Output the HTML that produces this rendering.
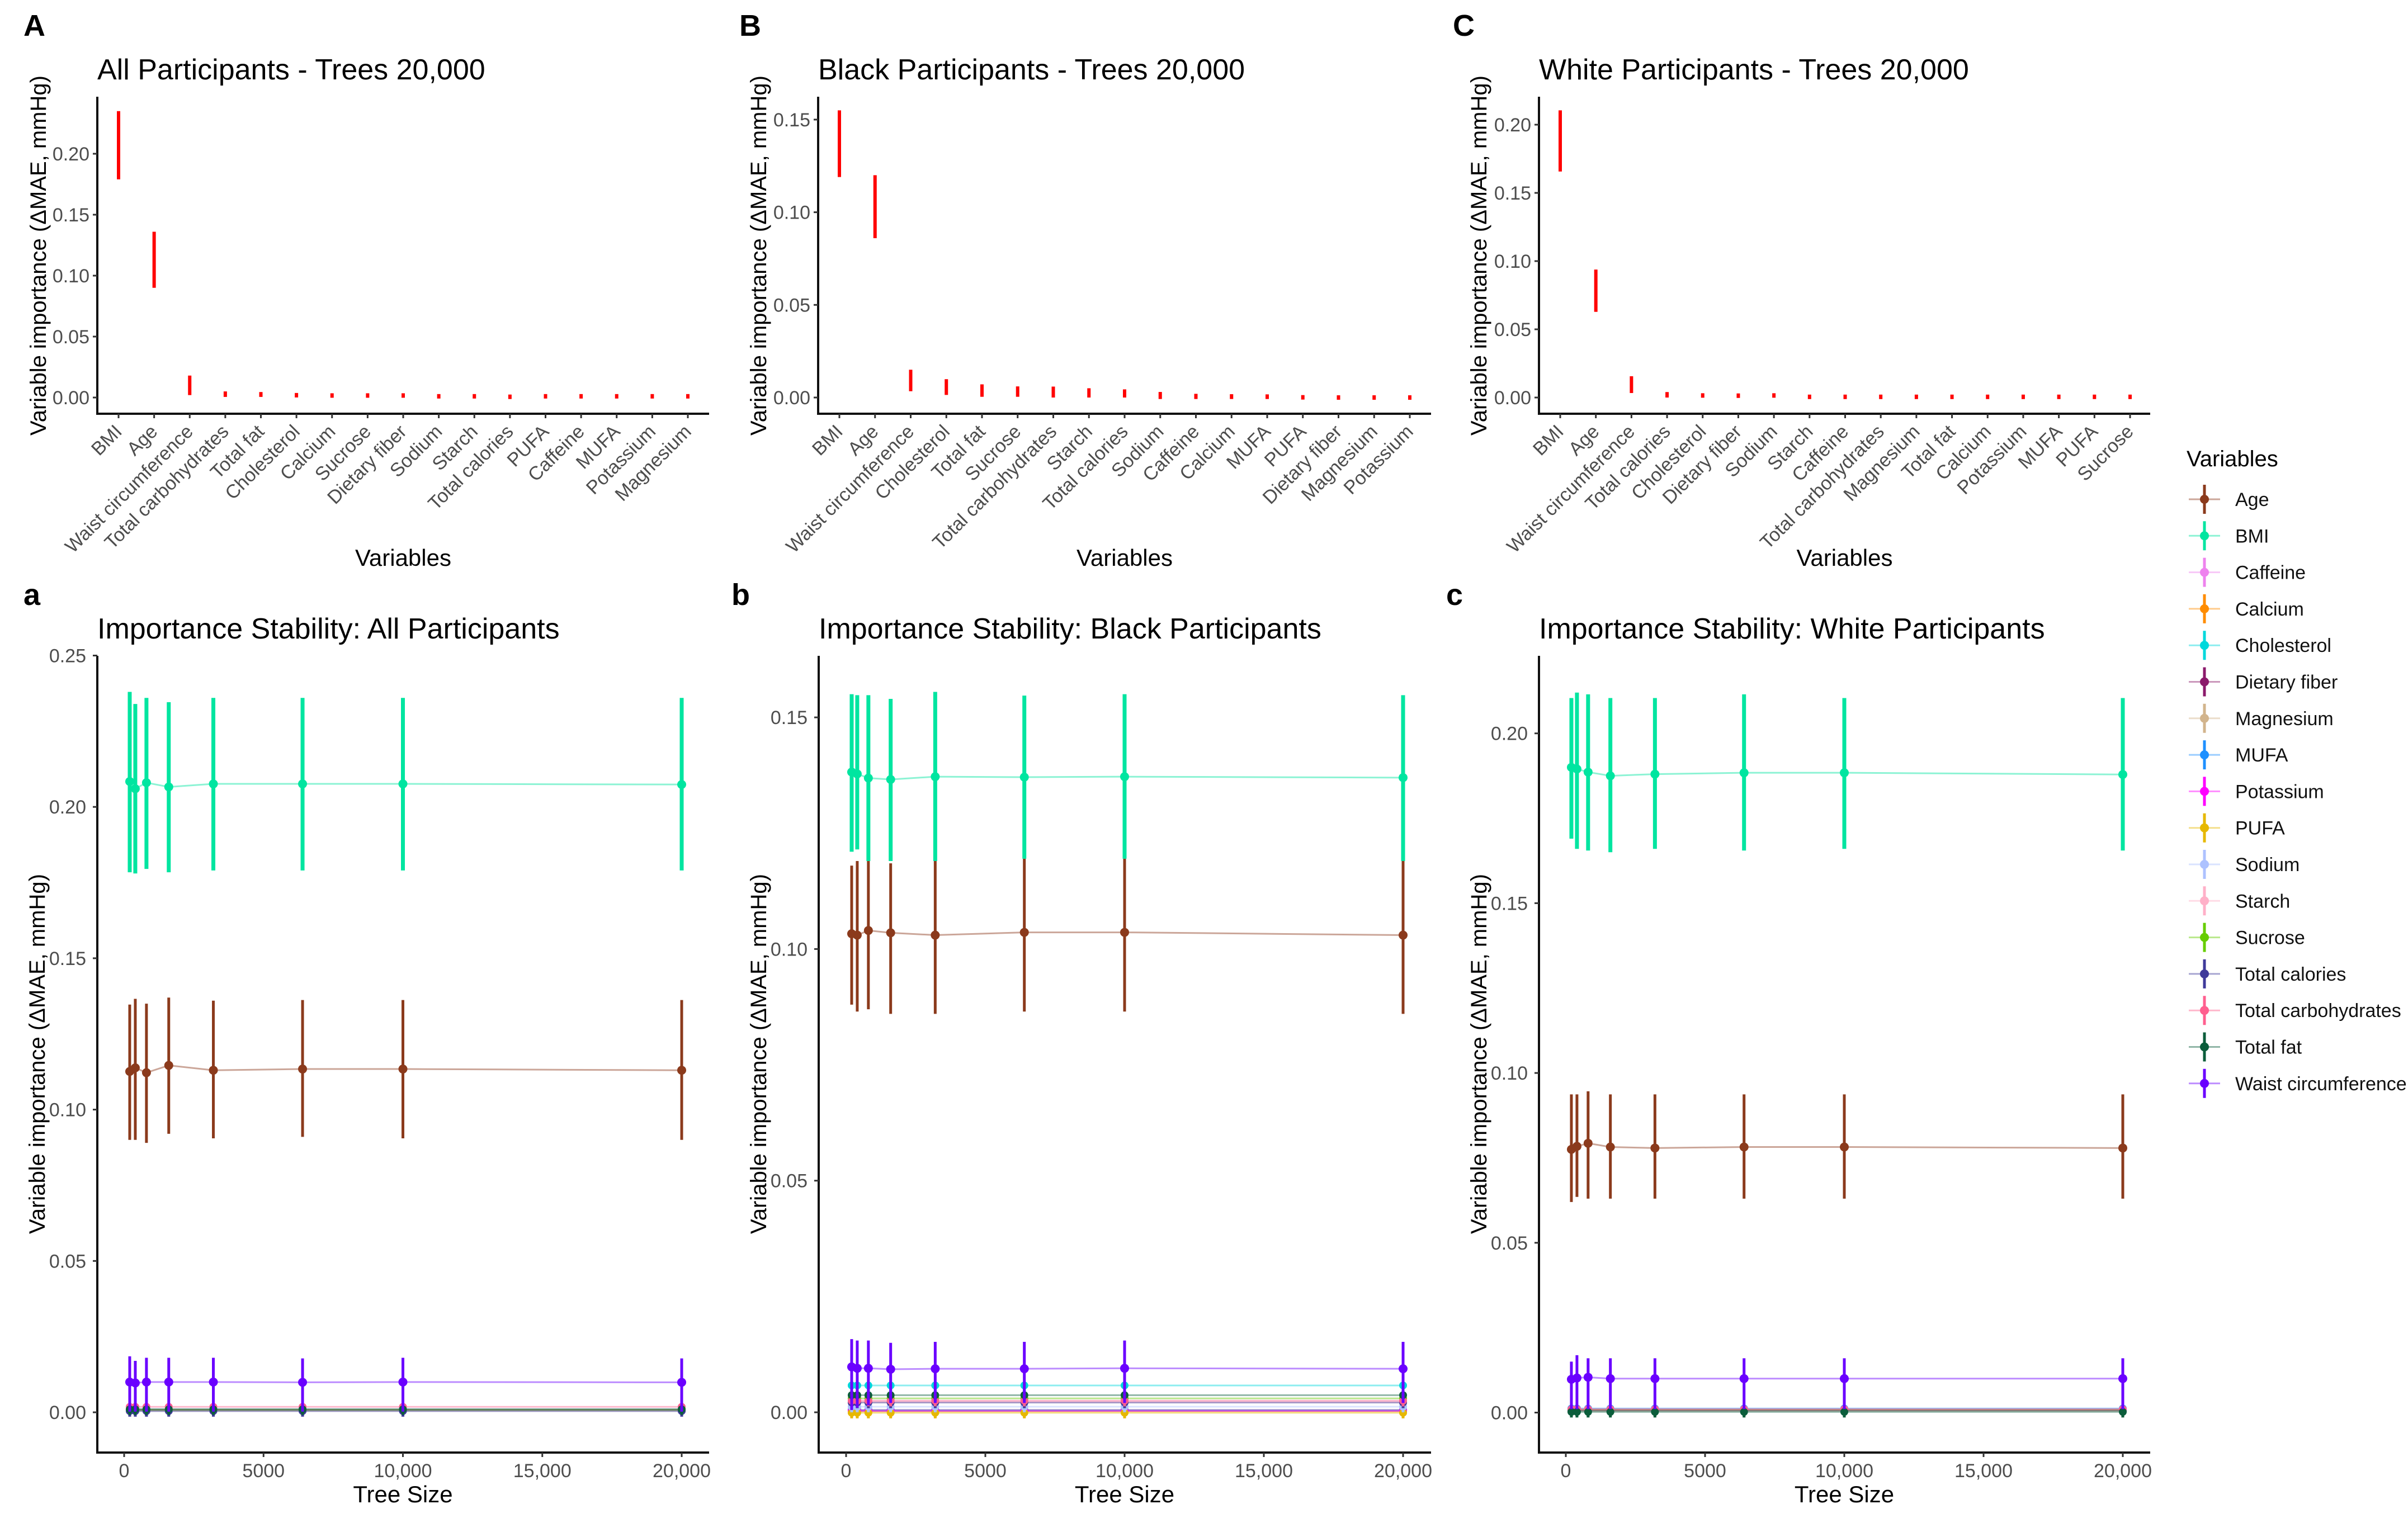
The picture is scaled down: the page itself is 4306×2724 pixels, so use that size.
<!DOCTYPE html>
<html><head><meta charset="utf-8"><title>Variable importance</title>
<style>
html,body{margin:0;padding:0;background:#fff;}
svg{display:block;font-family:"Liberation Sans",Arial,sans-serif;}
</style></head>
<body>
<svg id="fig" width="4306" height="2724" viewBox="0 0 4306 2724" xmlns="http://www.w3.org/2000/svg"></svg>
<script>
// ---------- Top panel data ----------
const catsA = ["BMI","Age","Waist circumference","Total carbohydrates","Total fat","Cholesterol","Calcium","Sucrose","Dietary fiber","Sodium","Starch","Total calories","PUFA","Caffeine","MUFA","Potassium","Magnesium"];
const loA = [0.179,0.090,0.002,0.0005,0.0005,0.0003,0.0003,0.0003,0.0003,0.0,0.0,-0.0003,0.0,0.0,0.0,0.0,0.0];
const hiA = [0.235,0.136,0.018,0.005,0.0045,0.0035,0.003,0.003,0.003,0.002,0.002,0.0015,0.002,0.002,0.002,0.002,0.002];
const catsB = ["BMI","Age","Waist circumference","Cholesterol","Total fat","Sucrose","Total carbohydrates","Starch","Total calories","Sodium","Caffeine","Calcium","MUFA","PUFA","Dietary fiber","Magnesium","Potassium"];
const loB = [0.119,0.086,0.0034,0.0014,0.0004,0.0004,0.0,0.0,0.0,-0.0008,-0.0008,-0.0008,-0.0008,-0.001,-0.001,-0.001,-0.001];
const hiB = [0.155,0.120,0.015,0.0099,0.0071,0.006,0.0059,0.005,0.0044,0.003,0.002,0.0018,0.0017,0.0012,0.001,0.001,0.001];
const catsC = ["BMI","Age","Waist circumference","Total calories","Cholesterol","Dietary fiber","Sodium","Starch","Caffeine","Total carbohydrates","Magnesium","Total fat","Calcium","Potassium","MUFA","PUFA","Sucrose"];
const loC = [0.1657,0.0628,0.0033,0.0,0.0,-0.0003,0.0,-0.0005,-0.0005,-0.0005,-0.0005,-0.0005,-0.0005,-0.0005,-0.0005,-0.0005,-0.0005];
const hiC = [0.2105,0.0938,0.0156,0.004,0.003,0.003,0.003,0.0015,0.0015,0.0015,0.0015,0.0015,0.0015,0.0015,0.0015,0.0015,0.0015];
const ticksA = [0,0.05,0.10,0.15,0.20];
const ticksB = [0,0.05,0.10,0.15];
const ticksC = [0,0.05,0.10,0.15,0.20];

// ---------- Bottom panel data ----------
const treeSizes = [200,400,800,1600,3200,6400,10000,20000];
const xTicks = [0,5000,10000,15000,20000];
const xTickLabels = ["0","5000","10,000","15,000","20,000"];
const varNames = ["Age","BMI","Caffeine","Calcium","Cholesterol","Dietary fiber","Magnesium","MUFA","Potassium","PUFA","Sodium","Starch","Sucrose","Total calories","Total carbohydrates","Total fat","Waist circumference"];
const varColors = ["#8b3a1c","#00e5a0","#ee82ee","#ff8c00","#00d8dc","#8b1a6b","#d2b48c","#1e90ff","#ff00ff","#e6b800","#adc2ff","#ffb0c8","#66cd00","#3f3a9a","#ff5f8f","#0b5d3b","#6a00ff"];

const aBMImean = [0.2084,0.2060,0.2080,0.2066,0.2076,0.2076,0.2076,0.2074];
const aBMIlo   = [0.1784,0.1780,0.1795,0.1784,0.1790,0.1790,0.1790,0.1790];
const aBMIhi   = [0.2380,0.2340,0.2360,0.2346,0.2360,0.2360,0.2360,0.2360];
const aAgemean = [0.1126,0.1138,0.1122,0.1146,0.1130,0.1134,0.1134,0.1130];
const aAgelo   = [0.0900,0.0900,0.0890,0.0920,0.0905,0.0910,0.0905,0.0900];
const aAgehi   = [0.1347,0.1366,0.1350,0.1370,0.1360,0.1362,0.1362,0.1362];
const aWCmean  = [0.0100,0.0097,0.0100,0.0100,0.0100,0.0099,0.0100,0.0099];
const aWClo    = [0.0002,0.0002,0.0002,0.0002,0.0002,0.0002,0.0002,0.0002];
const aWChi    = [0.0185,0.0170,0.0180,0.0180,0.0180,0.0178,0.0180,0.0178];
const aMinor   = [0,0,0.0008,0.0008,0.0010,0.0008,0.0008,0.0008,0.0008,0.0006,0.0006,0.0010,0.0008,0.0004,0.0018,0.0010,0];

const bBMImean = [0.1382,0.1378,0.1369,0.1366,0.1372,0.1371,0.1372,0.1370];
const bBMIlo   = [0.1210,0.1215,0.1190,0.1190,0.1190,0.1195,0.1195,0.1190];
const bBMIhi   = [0.1550,0.1548,0.1548,0.1540,0.1555,0.1547,0.1550,0.1548];
const bAgemean = [0.1033,0.1030,0.1040,0.1035,0.1030,0.1036,0.1036,0.1030];
const bAgelo   = [0.0880,0.0865,0.0870,0.0860,0.0860,0.0865,0.0865,0.0860];
const bAgehi   = [0.1180,0.1190,0.1190,0.1185,0.1190,0.1195,0.1195,0.1190];
const bWCmean  = [0.0098,0.0095,0.0095,0.0093,0.0094,0.0094,0.0095,0.0094];
const bWClo    = [0.0005,0.0010,0.0015,0.0020,0.0020,0.0020,0.0020,0.0020];
const bWChi    = [0.0158,0.0155,0.0155,0.0150,0.0152,0.0152,0.0155,0.0152];
const bMinor   = [0,0,0.0003,0.0002,0.0058,0.0005,0.0003,0.0004,0.0003,-0.0001,0.0012,0.0022,0.0030,0.0021,0.0025,0.0037,0];

const cBMImean = [0.1900,0.1895,0.1886,0.1875,0.1880,0.1884,0.1884,0.1879];
const cBMIlo   = [0.1690,0.1660,0.1655,0.1650,0.1660,0.1655,0.1660,0.1655];
const cBMIhi   = [0.2104,0.2120,0.2115,0.2104,0.2104,0.2115,0.2104,0.2104];
const cAgemean = [0.0775,0.0784,0.0793,0.0782,0.0779,0.0782,0.0782,0.0779];
const cAgelo   = [0.0620,0.0635,0.0630,0.0630,0.0630,0.0630,0.0630,0.0630];
const cAgehi   = [0.0937,0.0937,0.0946,0.0937,0.0937,0.0937,0.0937,0.0937];
const cWCmean  = [0.0098,0.0102,0.0104,0.0100,0.0100,0.0100,0.0100,0.0100];
const cWClo    = [0.0010,0.0010,0.0010,0.0010,0.0010,0.0010,0.0010,0.0010];
const cWChi    = [0.0150,0.0169,0.0160,0.0160,0.0160,0.0160,0.0160,0.0160];
const cMinor   = [0,0,0.0008,0.0008,0.0010,0.0008,0.0008,0.0012,0.0008,0.0006,0.0010,0.0008,0.0008,0.0006,0.0010,0.0002,0];
const yTicksA = [0,0.05,0.10,0.15,0.20,0.25];
const yTicksB = [0,0.05,0.10,0.15];
const yTicksC = [0,0.05,0.10,0.15,0.20];

const NS = "http://www.w3.org/2000/svg";
const svg = document.getElementById("fig");
function mk(tag, attrs, parent, txt){
  const e = document.createElementNS(NS, tag);
  for (const k in attrs) e.setAttribute(k, attrs[k]);
  if (txt !== undefined) e.textContent = txt;
  (parent || svg).appendChild(e);
  return e;
}
function label(x,y,t,size,weight,name){
  const e = mk("text",{x:x,y:y,"font-size":size,"font-weight":weight,fill:"#000"},svg,t);
  
  
}
function yTitle(cx, cy, name){
  const e = mk("text",{x:0,y:0,"font-size":40,"text-anchor":"middle",transform:`translate(${cx},${cy}) rotate(-90)`,fill:"#000"},svg,"Variable importance (ΔMAE, mmHg)");
  
  
}

// ---------- Top panels ----------
function topPanel(p){
  const g = mk("g",{});
  
  
  const y = v => p.y0 - v * p.scale;
  const cx = i => p.c0 + i * (p.c1 - p.c0) / (p.cats.length - 1);
  const ax = mk("path",{d:`M${p.left},${p.top} V${p.bottom} H${p.right}`,stroke:"#111",fill:"none","stroke-width":4},g);
  
  
  p.ticks.forEach(t=>{
    mk("line",{x1:p.left-8,x2:p.left,y1:y(t),y2:y(t),stroke:"#333","stroke-width":3},g);
    const tl = mk("text",{x:p.left-14,y:y(t)+12,"font-size":34,"text-anchor":"end",fill:"#4d4d4d"},g,t.toFixed(2));
    
    
  });
  p.cats.forEach((c,i)=>{
    const x = cx(i);
    mk("line",{x1:x,x2:x,y1:p.bottom,y2:p.bottom+8,stroke:"#333","stroke-width":3},g);
    let y1 = y(p.hi[i]), y2 = y(p.lo[i]);
    if (y2 - y1 < 8){ const m=(y1+y2)/2; y1=m-4; y2=m+4; }
    const bar = mk("line",{x1:x,x2:x,y1:y1,y2:y2,stroke:"#ff0000","stroke-width":6},g);
    
    
    const lx = x + 8, ly = p.bottom + 34;
    const tl = mk("text",{x:0,y:0,"font-size":34,"text-anchor":"end",fill:"#4d4d4d",transform:`translate(${lx},${ly}) rotate(-45)`},g,c);
    
    
  });
  label(p.left, 142, p.title, 52, "normal", "plot-title");
  const xl = mk("text",{x:(p.left+p.right)/2,y:1012,"font-size":42,"text-anchor":"middle",fill:"#000"},g,"Variables");
  
  
  yTitle(p.ytx, 457, "y-axis-title");
}
topPanel({name:"panel-A",left:174,right:1268,top:173,bottom:740,y0:711,scale:109/0.05,c0:212,c1:1230,cats:catsA,lo:loA,hi:hiA,ticks:ticksA,title:"All Participants - Trees 20,000",ytx:82});
topPanel({name:"panel-B",left:1463,right:2559,top:173,bottom:740,y0:711,scale:165.7/0.05,c0:1501,c1:2521,cats:catsB,lo:loB,hi:hiB,ticks:ticksB,title:"Black Participants - Trees 20,000",ytx:1370});
topPanel({name:"panel-C",left:2752,right:3845,top:173,bottom:740,y0:711,scale:122/0.05,c0:2790,c1:3809,cats:catsC,lo:loC,hi:hiC,ticks:ticksC,title:"White Participants - Trees 20,000",ytx:2658});

// ---------- Bottom panels ----------
function botPanel(p){
  const g = mk("g",{});
  
  
  const y = v => p.y0 - v * p.scale;
  const x = v => p.x0 + v * (p.x1 - p.x0) / 20000;
  const ax = mk("path",{d:`M${p.left},1173 V2598 H${p.right}`,stroke:"#111",fill:"none","stroke-width":4},g);
  
  
  p.yticks.forEach(t=>{
    mk("line",{x1:p.left-8,x2:p.left,y1:y(t),y2:y(t),stroke:"#333","stroke-width":3},g);
    const tl = mk("text",{x:p.left-20,y:y(t)+12,"font-size":34,"text-anchor":"end",fill:"#4d4d4d"},g,t.toFixed(2));
    
    
  });
  xTicks.forEach((t,i)=>{
    mk("line",{x1:x(t),x2:x(t),y1:2598,y2:2606,stroke:"#333","stroke-width":3},g);
    const tl = mk("text",{x:x(t),y:2642,"font-size":34,"text-anchor":"middle",fill:"#4d4d4d"},g,xTickLabels[i]);
    
    
  });
  varNames.forEach((n,vi)=>{
    if (n==="Age"||n==="BMI"||n==="Waist circumference") return;
    const v = p.minor[vi], col = varColors[vi];
    const ln = mk("line",{x1:x(treeSizes[0]),x2:x(treeSizes[treeSizes.length-1]),y1:y(v),y2:y(v),stroke:col,"stroke-width":3,"stroke-opacity":0.45},g);
    
    
    treeSizes.forEach(ts=>{
      mk("line",{x1:x(ts),x2:x(ts),y1:y(v)-6,y2:y(v)+10,stroke:col,"stroke-width":5},g);
      const c = mk("circle",{cx:x(ts),cy:y(v),r:7,fill:col},g);
      
      
    });
  });
  const majors = [
    ["waist-circumference", varColors[16], p.wc, 5],
    ["age", varColors[0], p.age, 5],
    ["bmi", varColors[1], p.bmi, 7]
  ];
  majors.forEach(([nm,col,s,w])=>{
    const [mean,lo,hi] = s;
    const pts = treeSizes.map((ts,i)=>`${x(ts)},${y(mean[i])}`).join(" ");
    const pl = mk("polyline",{points:pts,fill:"none",stroke:col,"stroke-width":3,"stroke-opacity":0.45},g);
    
    
    treeSizes.forEach((ts,i)=>{
      const eb = mk("line",{x1:x(ts),x2:x(ts),y1:y(hi[i]),y2:y(lo[i]),stroke:col,"stroke-width":w},g);
      
      
      const c = mk("circle",{cx:x(ts),cy:y(mean[i]),r:8,fill:col},g);
      
      
    });
  });
  label(p.left, 1142, p.title, 52, "normal", "plot-title");
  const xl = mk("text",{x:(p.x0+p.x1)/2,y:2687,"font-size":42,"text-anchor":"middle",fill:"#000"},g,"Tree Size");
  
  
  yTitle(p.ytx, 1885, "y-axis-title");
}
botPanel({name:"panel-a",left:174,right:1268,x0:222,x1:1219,y0:2526,scale:270.7/0.05,yticks:yTicksA,
  bmi:[aBMImean,aBMIlo,aBMIhi],age:[aAgemean,aAgelo,aAgehi],wc:[aWCmean,aWClo,aWChi],minor:aMinor,
  title:"Importance Stability: All Participants",ytx:80});
botPanel({name:"panel-b",left:1464,right:2559,x0:1513,x1:2509,y0:2526,scale:414.3/0.05,yticks:yTicksB,
  bmi:[bBMImean,bBMIlo,bBMIhi],age:[bAgemean,bAgelo,bAgehi],wc:[bWCmean,bWClo,bWChi],minor:bMinor,
  title:"Importance Stability: Black Participants",ytx:1370});
botPanel({name:"panel-c",left:2752,right:3845,x0:2800,x1:3796,y0:2526.5,scale:303.7/0.05,yticks:yTicksC,
  bmi:[cBMImean,cBMIlo,cBMIhi],age:[cAgemean,cAgelo,cAgehi],wc:[cWCmean,cWClo,cWChi],minor:cMinor,
  title:"Importance Stability: White Participants",ytx:2658});

// ---------- Panel letters ----------
[["A",42,64],["B",1322,64],["C",2598,64],["a",42,1082],["b",1308,1082],["c",2586,1082]].forEach(([t,x,y])=>{
  label(x,y,t,54,"bold","panel-letter-"+t);
});

// ---------- Legend ----------
const lg = mk("g",{});


const lt = mk("text",{x:3910,y:834,"font-size":40,fill:"#000"},lg,"Variables");


varNames.forEach((n,i)=>{
  const cy = 893 + i*65.3, col = varColors[i];
  const e = mk("g",{},lg);
  
  
  mk("line",{x1:3914,x2:3970,y1:cy,y2:cy,stroke:col,"stroke-width":3,"stroke-opacity":0.45},e);
  mk("line",{x1:3942,x2:3942,y1:cy-26,y2:cy+26,stroke:col,"stroke-width":5},e);
  mk("circle",{cx:3942,cy:cy,r:8,fill:col},e);
  mk("text",{x:3997,y:cy+12,"font-size":34,fill:"#111"},e,n);
});
</script>
</body></html>
